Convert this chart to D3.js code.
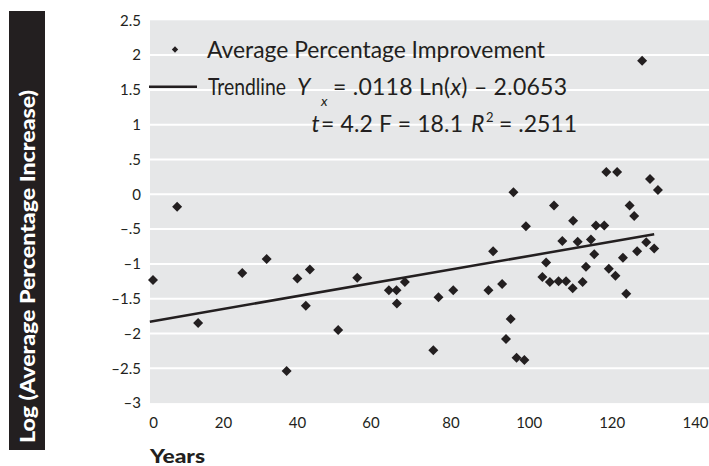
<!DOCTYPE html>
<html>
<head>
<meta charset="utf-8">
<script src="https://cdn.jsdelivr.net/npm/d3@7"></script>
<style>
  body { margin: 0; background: #fff; }
  svg { display: block; font-family: Lato, "Noto Sans", sans-serif; }
</style>
</head>
<body>
<div id="chart"></div>
<script>
// years (x) and log average percentage increase (y)
const years = [0, 6.9, 12.9, 25.2, 31.8, 37.2, 40.1, 42.4, 43.5, 51.2, 56.4, 64.6, 66.5, 66.6, 68.6,
  75.7, 77.0, 80.7, 89.7, 90.9, 93.2, 94.2, 95.4, 96.1, 96.9, 98.9, 99.3, 103.3, 104.2, 105.1,
  106.1, 107.2, 108.1, 109.0, 110.6, 110.7, 111.8, 113.0, 113.8, 115.0, 115.8, 116.2, 118.2,
  118.7, 119.3, 120.9, 121.3, 122.7, 123.5, 124.3, 125.4, 126.1, 127.3, 128.3, 129.2, 130.2, 131.1];
const logIncrease = [-1.23, -0.18, -1.85, -1.13, -0.93, -2.54, -1.21, -1.60, -1.08, -1.95, -1.20, -1.38, -1.38, -1.57, -1.26,
  -2.24, -1.48, -1.38, -1.38, -0.82, -1.29, -2.08, -1.79, 0.03, -2.35, -2.38, -0.46, -1.19, -0.98, -1.26,
  -0.16, -1.25, -0.67, -1.25, -1.35, -0.38, -0.68, -1.26, -1.04, -0.65, -0.86, -0.45, -0.45,
  0.32, -1.07, -1.17, 0.32, -0.91, -1.43, -0.16, -0.31, -0.82, 1.92, -0.69, 0.22, -0.78, 0.06];

// trendline end points
const trendX = [-0.9, 130.2];
const trendY = [-1.83, -0.575];

const xTicks = [0, 20, 40, 60, 80, 100, 120, 140];
const yTicks = [2.5, 2, 1.5, 1, 0.5, 0, -0.5, -1, -1.5, -2, -2.5, -3];
const yTickLabels = ['2.5', '2', '1.5', '1', '.5', '0', '\u2013.5', '\u20131', '\u20131.5', '\u20132', '\u20132.5', '\u20133'];

const width = 709, height = 466;
const ink = '#231f20';
const plot = { left: 150, right: 709, top: 20.3, bottom: 403.1 };

const svg = d3.select('#chart').append('svg')
  .attr('width', width)
  .attr('height', height);

// the printed x labels are not evenly spaced, so the scale follows them
const x = d3.scaleLinear()
  .domain(xTicks)
  .range([153, 223, 297, 370.5, 450.5, 528.7, 611.7, 695]);

const y = d3.scaleLinear()
  .domain([-3, 2.5])
  .range([plot.bottom, plot.top]);

svg.append('rect')
  .attr('x', plot.left)
  .attr('y', plot.top)
  .attr('width', plot.right - plot.left)
  .attr('height', plot.bottom - plot.top)
  .attr('fill', '#e6e7e8');

// white gridlines
svg.append('g')
  .selectAll('line')
  .data(yTicks.filter(d => d > -3 && d < 2.5))
  .enter().append('line')
  .attr('x1', plot.left)
  .attr('x2', plot.right)
  .attr('y1', d => y(d))
  .attr('y2', d => y(d))
  .attr('stroke', '#fff')
  .attr('stroke-width', 2);

// y axis labels
const yAxis = svg.append('g')
  .attr('transform', 'translate(141,0)')
  .call(d3.axisLeft(y).tickValues(yTicks).tickSize(0).tickPadding(0)
    .tickFormat((d, i) => yTickLabels[i]));
yAxis.select('.domain').remove();
yAxis.selectAll('text')
  .attr('fill', ink)
  .style('font-family', 'Lato, "Noto Sans", sans-serif')
  .style('font-size', '15px');

// x axis labels
const xAxis = svg.append('g')
  .attr('transform', 'translate(0,' + (plot.bottom + 14.5) + ')')
  .call(d3.axisBottom(x).tickValues(xTicks).tickSize(0).tickPadding(0));
xAxis.select('.domain').remove();
xAxis.selectAll('text')
  .attr('fill', ink)
  .style('font-family', 'Lato, "Noto Sans", sans-serif')
  .style('font-size', '15px');

svg.append('text')
  .attr('x', 150)
  .attr('y', 463)
  .attr('fill', ink)
  .attr('textLength', 55)
  .attr('lengthAdjust', 'spacingAndGlyphs')
  .style('font-size', '19px')
  .style('font-weight', 900)
  .text('Years');

// y axis title in black box
svg.append('rect')
  .attr('x', 9).attr('y', 11)
  .attr('width', 36).attr('height', 439)
  .attr('fill', ink);
svg.append('text')
  .attr('transform', 'translate(34.5,443) rotate(-90)')
  .attr('fill', '#fff')
  .attr('textLength', 353)
  .attr('lengthAdjust', 'spacingAndGlyphs')
  .style('font-size', '20px')
  .style('font-weight', 900)
  .text('Log (Average Percentage Increase)');

// trendline
const line = d3.line()
  .x(d => x(d[0]))
  .y(d => y(d[1]));
svg.append('path')
  .datum(d3.zip(trendX, trendY))
  .attr('fill', 'none')
  .attr('stroke', ink)
  .attr('stroke-width', 2.5)
  .attr('d', line);

// points
const diamond = d3.symbol().type(d3.symbolSquare).size(50);
svg.append('g')
  .selectAll('path')
  .data(d3.zip(years, logIncrease))
  .enter().append('path')
  .attr('d', diamond)
  .attr('transform', d => `translate(${x(d[0])},${y(d[1])}) rotate(45)`)
  .attr('fill', ink);

// legend
const legend = svg.append('g').attr('fill', ink).style('font-size', '23px');
legend.append('path')
  .attr('d', d3.symbol().type(d3.symbolSquare).size(20))
  .attr('transform', 'translate(175,49.5) rotate(45)');
legend.append('text')
  .attr('x', 207).attr('y', 57.5)
  .attr('textLength', 338)
  .attr('lengthAdjust', 'spacingAndGlyphs')
  .text('Average Percentage Improvement');

legend.append('line')
  .attr('x1', 149).attr('x2', 197)
  .attr('y1', 86.7).attr('y2', 86.7)
  .attr('stroke', ink)
  .attr('stroke-width', 2.5);
legend.append('text')
  .attr('x', 208).attr('y', 95)
  .attr('textLength', 78)
  .attr('lengthAdjust', 'spacingAndGlyphs')
  .text('Trendline');

legend.append('text')
  .attr('x', 297).attr('y', 95)
  .style('font-style', 'italic')
  .text('Y');
legend.append('text')
  .attr('x', 321).attr('y', 106)
  .style('font-style', 'italic')
  .style('font-size', '14px')
  .text('x');
const eq = legend.append('text')
  .attr('x', 333).attr('y', 95)
  .attr('textLength', 234)
  .attr('lengthAdjust', 'spacing');
eq.append('tspan').text('= .0118 Ln(');
eq.append('tspan').style('font-style', 'italic').text('x');
eq.append('tspan').text(') \u2013 2.0653');

legend.append('text')
  .attr('x', 311.5).attr('y', 132)
  .style('font-style', 'italic')
  .text('t');
legend.append('text')
  .attr('x', 321).attr('y', 132)
  .attr('textLength', 142)
  .attr('lengthAdjust', 'spacing')
  .text('= 4.2 F = 18.1');
legend.append('text')
  .attr('x', 471).attr('y', 132)
  .style('font-style', 'italic')
  .text('R');
legend.append('text')
  .attr('x', 486).attr('y', 122)
  .style('font-size', '13px')
  .text('2');
legend.append('text')
  .attr('x', 499).attr('y', 132)
  .attr('textLength', 78)
  .attr('lengthAdjust', 'spacing')
  .text('= .2511');
</script>
</body>
</html>
